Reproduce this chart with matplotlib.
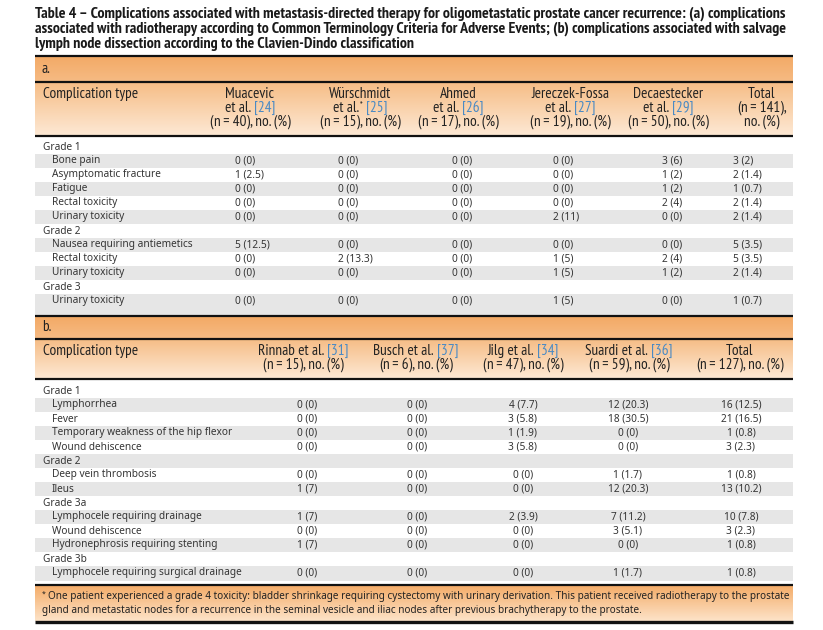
import numpy as np
import matplotlib
matplotlib.use("Agg")
import matplotlib.pyplot as plt
from matplotlib.patches import Rectangle
from matplotlib.colors import to_rgb
from matplotlib import font_manager as fm

# ---- table content ----
title_lines = [
    "Table 4 \u2013 Complications associated with metastasis-directed therapy for oligometastatic prostate cancer recurrence: (a) complications",
    "associated with radiotherapy according to Common Terminology Criteria for Adverse Events; (b) complications associated with salvage",
    "lymph node dissection according to the Clavien-Dindo classification",
]

a_studies = ["Muacevic", "W\u00fcrschmidt", "Ahmed", "Jereczek-Fossa", "Decaestecker", "Total"]
a_refs = ["24", "25", "26", "27", "29", None]
a_n = [40, 15, 17, 19, 50, 141]
a_grades = ["Grade 1", "Grade 2", "Grade 3"]
a_items = [
    ["Bone pain", "Asymptomatic fracture", "Fatigue", "Rectal toxicity", "Urinary toxicity"],
    ["Nausea requiring antiemetics", "Rectal toxicity", "Urinary toxicity"],
    ["Urinary toxicity"],
]
a_counts = [
    [0, 0, 0, 0, 3, 3],
    [1, 0, 0, 0, 1, 2],
    [0, 0, 0, 0, 1, 1],
    [0, 0, 0, 0, 2, 2],
    [0, 0, 0, 2, 0, 2],
    [5, 0, 0, 0, 0, 5],
    [0, 2, 0, 1, 2, 5],
    [0, 0, 0, 1, 1, 2],
    [0, 0, 0, 1, 0, 1],
]
a_pcts = [
    [0, 0, 0, 0, 6, 2],
    [2.5, 0, 0, 0, 2, 1.4],
    [0, 0, 0, 0, 2, 0.7],
    [0, 0, 0, 0, 4, 1.4],
    [0, 0, 0, 11, 0, 1.4],
    [12.5, 0, 0, 0, 0, 3.5],
    [0, 13.3, 0, 5, 4, 3.5],
    [0, 0, 0, 5, 2, 1.4],
    [0, 0, 0, 5, 0, 0.7],
]

b_studies = ["Rinnab et al.", "Busch et al.", "Jilg et al.", "Suardi et al.", "Total"]
b_refs = ["31", "37", "34", "36", None]
b_n = [15, 6, 47, 59, 127]
b_grades = ["Grade 1", "Grade 2", "Grade 3a", "Grade 3b"]
b_items = [
    ["Lymphorrhea", "Fever", "Temporary weakness of the hip flexor", "Wound dehiscence"],
    ["Deep vein thrombosis", "Ileus"],
    ["Lymphocele requiring drainage", "Wound dehiscence", "Hydronephrosis requiring stenting"],
    ["Lymphocele requiring surgical drainage"],
]
b_counts = [
    [0, 0, 4, 12, 16],
    [0, 0, 3, 18, 21],
    [0, 0, 1, 0, 1],
    [0, 0, 3, 0, 3],
    [0, 0, 0, 1, 1],
    [1, 0, 0, 12, 13],
    [1, 0, 2, 7, 10],
    [0, 0, 0, 3, 3],
    [1, 0, 0, 0, 1],
    [0, 0, 0, 1, 1],
]
b_pcts = [
    [0, 0, 7.7, 20.3, 12.5],
    [0, 0, 5.8, 30.5, 16.5],
    [0, 0, 1.9, 0, 0.8],
    [0, 0, 5.8, 0, 2.3],
    [0, 0, 0, 1.7, 0.8],
    [7, 0, 0, 20.3, 10.2],
    [7, 0, 3.9, 11.2, 7.8],
    [0, 0, 0, 5.1, 2.3],
    [7, 0, 0, 0, 0.8],
    [0, 0, 0, 1.7, 0.8],
]

footnote = [
    "One patient experienced a grade 4 toxicity: bladder shrinkage requiring cystectomy with urinary derivation. This patient received radiotherapy to the prostate",
    "gland and metastatic nodes for a recurrence in the seminal vesicle and iliac nodes after previous brachytherapy to the prostate.",
]

# ---- fonts: pick a condensed face for headings if there is one ----
avail = {f.name for f in fm.fontManager.ttflist}


def pick(cands):
    for c in cands:
        if c in avail:
            return c
    return "DejaVu Sans"


HEAD = [pick(["PT Sans Narrow", "Roboto Condensed", "Liberation Sans Narrow",
              "Fira Sans Condensed", "Open Sans Condensed", "Roboto"]), "DejaVu Sans"]
BODY = [pick(["Noto Sans", "Open Sans", "DejaVu Sans"]), "DejaVu Sans"]
TXT = "#353535"
DARK = "#222222"
BLUE = "#4a8ac4"
STRIPE = "#e6e6e6"
L, R = 35, 793

fig = plt.figure(figsize=(8.23, 6.30), dpi=100)
ax = fig.add_axes([0, 0, 1, 1])
ax.axis("off")
ax.set_xlim(0, 823)
ax.set_ylim(630, 0)
renderer = fig.canvas.get_renderer()


def width_of(s, family, size, weight="normal"):
    t = ax.text(0, 0, s, fontsize=size, family=family, weight=weight)
    w = t.get_window_extent(renderer).width
    t.remove()
    return w


def fit(s, family, target, weight="normal"):
    size = 10 * target / width_of(s, family, 10, weight)
    # second pass, hinting makes the width not quite linear in size
    return size * target / width_of(s, family, size, weight)


TITLE_SIZE = fit(title_lines[0], HEAD, 755, "bold")
HEAD_SIZE = fit("Complication type", HEAD, 94)
BODY_SIZE = fit("Temporary weakness of the hip flexor", BODY, 180)
FOOT_SIZE = fit(footnote[0], BODY, 740)


def band(y0, y1, c0, c1):
    c0, c1 = np.array(to_rgb(c0)), np.array(to_rgb(c1))
    t = np.linspace(0, 1, 64)[:, None, None]
    img = c0 * (1 - t) + c1 * t
    ax.imshow(img, extent=[L, R, y1, y0], aspect="auto", interpolation="bilinear", zorder=0)


def hline(y, lw=1.6):
    ax.plot([L, R], [y, y], color="#111111", lw=lw, solid_capstyle="butt", zorder=2)


def rich(x, y, parts, ha="left", size=None, family=BODY, color=TXT, weight="normal"):
    # parts: (text, options); each piece is measured, then the pieces are laid out in a row
    size = BODY_SIZE if size is None else size
    arts, widths, gaps = [], [], []
    for s, o in parts:
        t = ax.text(0, y + o.get("dy", 0), s, fontsize=o.get("size", size), family=family,
                    color=o.get("color", color), style=o.get("style", "normal"), weight=weight,
                    ha="left", va="baseline", zorder=3)
        arts.append(t)
        widths.append(t.get_window_extent(renderer).width)
        gaps.append(o.get("gap", 0))
    total = sum(widths) + sum(gaps)
    x0 = x - total / 2 if ha == "center" else (x - total if ha == "right" else x)
    for t, w, g in zip(arts, widths, gaps):
        x0 += g
        t.set_x(x0)
        x0 += w


def fmt(c, p):
    return f"{c} ({p:g})"


def n_parts(n, tail):
    return [("(", {}), ("n", {"style": "italic"}), (f" = {n}){tail}", {})]


# title
for i, line in enumerate(title_lines):
    ax.text(35, 18 + i * 15, line, fontsize=TITLE_SIZE, family=HEAD, weight="bold", color="#1a1a1a", va="baseline")

hkw = dict(size=HEAD_SIZE, family=HEAD, color=DARK)

# ---------------- section a ----------------
band(56, 82, "#f3aa66", "#f6bb84")
band(82, 136, "#f6bd86", "#fde9d5")
hline(56); hline(82); hline(136)
rich(42, 73, [("a.", {})], **hkw)
rich(43, 98, [("Complication type", {})], **hkw)

a_head_x = [250, 360, 458, 570, 668, 762]
a_data_x = [235, 338, 452, 553, 662, 733]
for i, name in enumerate(a_studies):
    cx = a_head_x[i]
    rich(cx, 98, [(name, {})], ha="center", **hkw)
    if a_refs[i] is None:
        rich(cx, 112, n_parts(a_n[i], ","), ha="center", **hkw)
        rich(cx, 126, [("no. (%)", {})], ha="center", **hkw)
    else:
        second = [("et al.", {})]
        if name.startswith("W"):
            second.append(("*", {"size": HEAD_SIZE * 0.6, "dy": -4, "gap": 1}))
        second.append((f"[{a_refs[i]}]", {"color": BLUE, "gap": 3}))
        rich(cx, 112, second, ha="center", **hkw)
        rich(cx, 126, n_parts(a_n[i], ", no. (%)"), ha="center", **hkw)

y = 146
row = 0
k = 0
for g, items in zip(a_grades, a_items):
    rich(43, y + 3.5, [(g, {})])
    y += 14
    row += 1
    for j, it in enumerate(items):
        if row % 2 == 1:
            last = g == a_grades[-1] and j == len(items) - 1
            ax.add_patch(Rectangle((L, y - 6.5), R - L, 21 if last else 14, color=STRIPE, lw=0, zorder=1))
        rich(52, y + 3.5, [(it, {})])
        for c in range(len(a_studies)):
            rich(a_data_x[c], y + 3.5, [(fmt(a_counts[k][c], a_pcts[k][c]), {})])
        k += 1
        y += 14
        row += 1

hline(316)

# ---------------- section b ----------------
band(317, 339, "#f3aa66", "#f6bb84")
band(339, 379, "#f6bd86", "#fde9d5")
hline(339); hline(379)
rich(42, 331, [("b.", {})], **hkw)
rich(43, 355, [("Complication type", {})], **hkw)

b_head_x = [303, 416, 523, 629, 740]
b_data_x = [307, 417, 523, 628, 741]
for i, name in enumerate(b_studies):
    cx = b_head_x[i]
    if b_refs[i] is None:
        rich(cx, 355, [(name, {})], ha="center", **hkw)
    else:
        rich(cx, 355, [(name, {}), (f"[{b_refs[i]}]", {"color": BLUE, "gap": 3})], ha="center", **hkw)
    rich(cx, 369, n_parts(b_n[i], ", no. (%)"), ha="center", **hkw)

y = 390
row = 0
k = 0
for g, items in zip(b_grades, b_items):
    if row % 2 == 1:
        ax.add_patch(Rectangle((L, y - 6.5), R - L, 14, color=STRIPE, lw=0, zorder=1))
    rich(43, y + 3.5, [(g, {})])
    y += 14
    row += 1
    for j, it in enumerate(items):
        if row % 2 == 1:
            last = g == b_grades[-1] and j == len(items) - 1
            ax.add_patch(Rectangle((L, y - 6.5), R - L, 15 if last else 14, color=STRIPE, lw=0, zorder=1))
        rich(52, y + 3.5, [(it, {})])
        for c in range(len(b_studies)):
            rich(b_data_x[c], y + 3.5, [(fmt(b_counts[k][c], b_pcts[k][c]), {})], ha="center")
        k += 1
        y += 14
        row += 1

# footnote
hline(585)
band(586, 621, "#f4ad6a", "#fde3c8")
rich(42, 596, [("*", {})], size=FOOT_SIZE * 0.7, color=DARK)
rich(48, 599.5, [(footnote[0], {})], size=FOOT_SIZE, color=DARK)
rich(42, 613.5, [(footnote[1], {})], size=FOOT_SIZE, color=DARK)
hline(622, lw=2.4)

ax.set_xlim(0, 823)
ax.set_ylim(630, 0)
fig.savefig("out.png", dpi=100, facecolor="white")
